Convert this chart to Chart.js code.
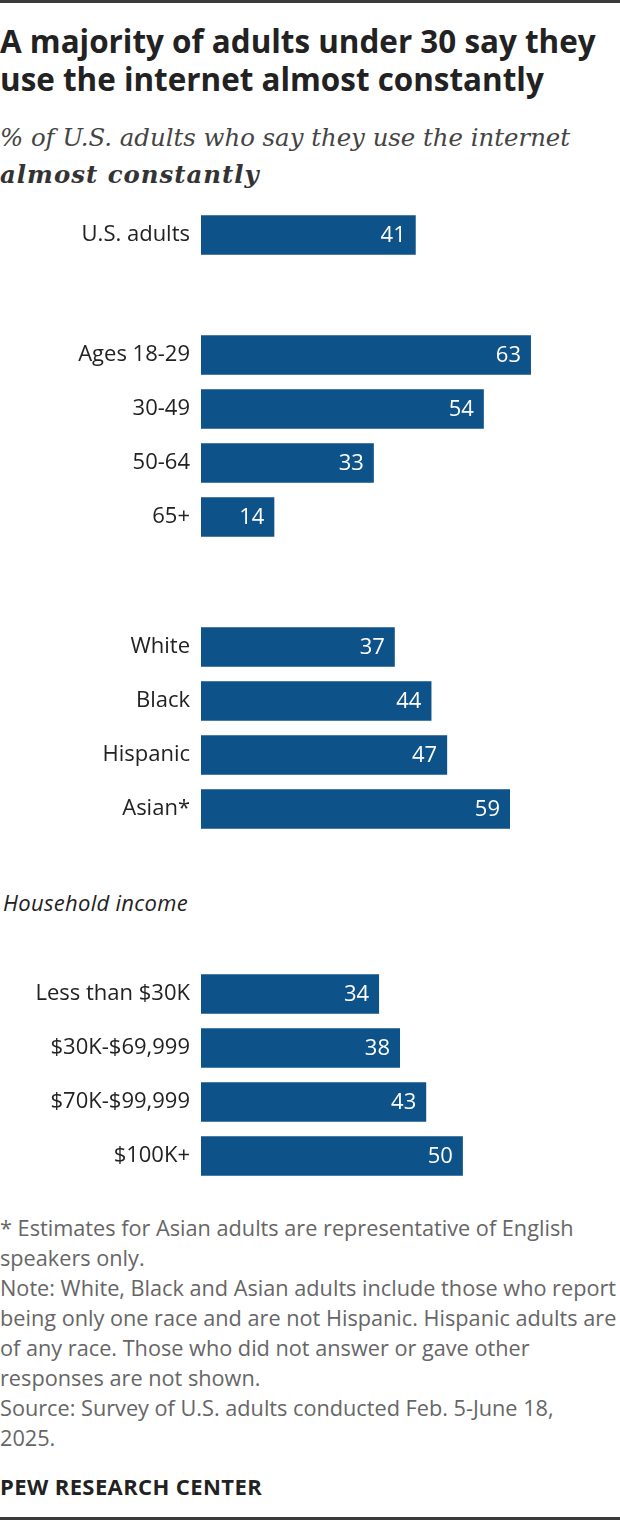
<!DOCTYPE html>
<html>
<head>
<meta charset="utf-8">
<script src="https://cdn.jsdelivr.net/npm/chart.js@4.4.0/dist/chart.umd.min.js"></script>
<style>
  body { margin: 0; width: 620px; height: 1520px; background: #fff; position: relative; overflow: hidden; font-family: "Open Sans", sans-serif; }
  .rule { position: absolute; left: 0; width: 620px; height: 3px; background: #3b3b3b; }
  .title { position: absolute; left: 0; top: 22px; font-size: 31.4px; font-weight: bold; line-height: 38px; color: #222; white-space: nowrap; }
  .sub { position: absolute; left: 0; top: 119px; font-family: "DejaVu Serif", serif; font-style: italic; font-size: 24.4px; line-height: 37px; color: #444; white-space: nowrap; }
  .sub b { color: #333; letter-spacing: 1px; }
  .group { position: absolute; left: 3px; top: 887px; font-style: italic; font-size: 22px; line-height: 30px; color: #222; letter-spacing: 0.3px; }
  .notes { position: absolute; left: 0; top: 1213px; font-size: 21.7px; line-height: 30px; color: #666; white-space: nowrap; }
  .logo { position: absolute; left: 0; top: 1471px; font-size: 22px; font-weight: bold; line-height: 30px; color: #222; letter-spacing: 0.4px; }
  .box { position: absolute; left: 0; width: 620px; }
</style>
</head>
<body>
<div class="rule" style="top:0"></div>
<div class="title">A majority of adults under 30 say they<br>use the internet almost constantly</div>
<div class="sub">% of U.S. adults who say they use the internet<br><b>almost constantly</b></div>

<div class="box" style="top:208px;height:54px"><canvas id="c1"></canvas></div>
<div class="box" style="top:328px;height:216px"><canvas id="c2"></canvas></div>
<div class="box" style="top:620px;height:216px"><canvas id="c3"></canvas></div>
<div class="group">Household income</div>
<div class="box" style="top:967px;height:216px"><canvas id="c4"></canvas></div>

<div class="notes">* Estimates for Asian adults are representative of English<br>speakers only.<br>Note: White, Black and Asian adults include those who report<br>being only one race and are not Hispanic. Hispanic adults are<br>of any race. Those who did not answer or gave other<br>responses are not shown.<br>Source: Survey of U.S. adults conducted Feb. 5-June 18,<br>2025.</div>
<div class="logo">PEW RESEARCH CENTER</div>
<div class="rule" style="top:1517px"></div>

<script>
var totalLabels = ["U.S. adults"];
var totalValues = [41];

var ageLabels = ["Ages 18-29", "30-49", "50-64", "65+"];
var ageValues = [63, 54, 33, 14];

var raceLabels = ["White", "Black", "Hispanic", "Asian*"];
var raceValues = [37, 44, 47, 59];

var incomeLabels = ["Less than $30K", "$30K-$69,999", "$70K-$99,999", "$100K+"];
var incomeValues = [34, 38, 43, 50];

var barColor = "#0d5288";
var fontFamily = '"Open Sans", sans-serif';

// white numbers at the inner end of each bar
var valueLabels = {
  id: "valueLabels",
  afterDatasetsDraw: function (chart) {
    var ctx = chart.ctx;
    var meta = chart.getDatasetMeta(0);
    ctx.save();
    ctx.fillStyle = "#fff";
    ctx.font = "22px " + fontFamily;
    ctx.textAlign = "right";
    ctx.textBaseline = "middle";
    meta.data.forEach(function (bar, i) {
      ctx.fillText(chart.data.datasets[0].data[i], bar.x - 10, bar.y + 1);
    });
    ctx.restore();
  }
};

function makeChart(id, labels, values) {
  new Chart(document.getElementById(id).getContext("2d"), {
    type: "bar",
    data: {
      labels: labels,
      datasets: [{
        data: values,
        backgroundColor: barColor,
        categoryPercentage: 1,
        barPercentage: 0.73
      }]
    },
    options: {
      indexAxis: "y",
      responsive: true,
      maintainAspectRatio: false,
      animation: false,
      layout: { padding: 0 },
      scales: {
        x: {
          display: false,
          min: 0,
          max: 80
        },
        y: {
          grid: { display: false, drawTicks: false },
          border: { display: false },
          ticks: {
            color: "#222",
            padding: 11,
            font: { family: fontFamily, size: 22 }
          },
          afterFit: function (scale) {
            scale.width = 201;
            scale.paddingTop = 0;
            scale.paddingBottom = 0;
          }
        }
      },
      plugins: {
        legend: { display: false },
        tooltip: { enabled: false }
      }
    },
    plugins: [valueLabels]
  });
}

makeChart("c1", totalLabels, totalValues);
makeChart("c2", ageLabels, ageValues);
makeChart("c3", raceLabels, raceValues);
makeChart("c4", incomeLabels, incomeValues);
</script>
</body>
</html>
